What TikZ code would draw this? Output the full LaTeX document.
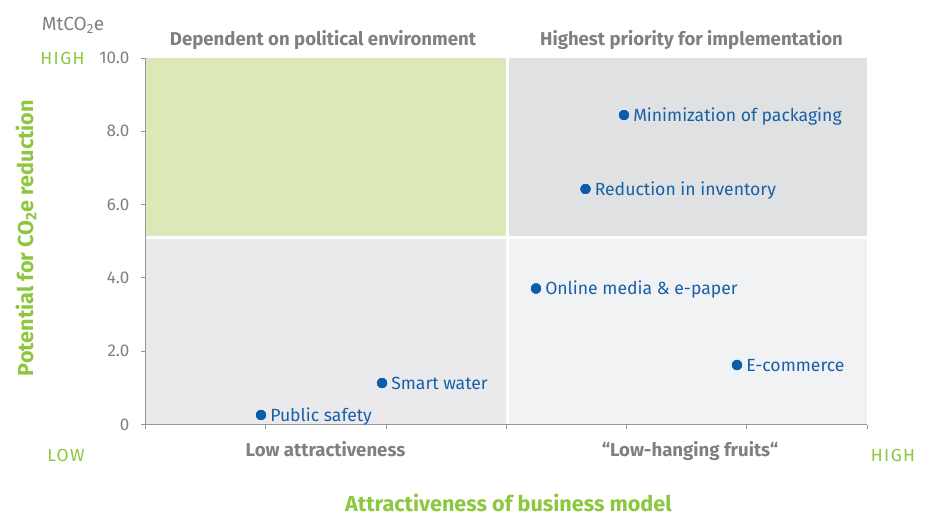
\documentclass[tikz,border=0pt]{standalone}
\usepackage{fontspec}
\setmainfont{Fira Sans}
\definecolor{qgreen}{RGB}{221,232,185}
\definecolor{qgrayA}{RGB}{224,225,227}
\definecolor{qgrayB}{RGB}{234,234,236}
\definecolor{qgrayC}{RGB}{241,242,244}
\definecolor{axisgray}{RGB}{150,150,150}
\definecolor{txtgray}{RGB}{128,128,128}
\definecolor{dotblue}{RGB}{11,93,170}
\definecolor{lblblue}{RGB}{25,95,168}
\definecolor{accgreen}{RGB}{141,198,63}
\tikzset{
  quad/.style={draw=none, inner sep=0pt, outer sep=0pt, anchor=north west},
  dot/.style={circle, fill=dotblue, draw=white, line width=0.6pt, minimum size=11.5pt, inner sep=0pt},
  ptlabel/.style={anchor=base west, inner sep=0pt, text=lblblue, font=\fontsize{17.6}{20}\selectfont},
  ticklbl/.style={anchor=east, inner sep=0pt, text=txtgray, font=\fontsize{17}{20}\selectfont},
  header/.style={anchor=base, inner sep=0pt, text=txtgray, font=\fontsize{18.6}{22}\selectfont\bfseries},
  endlbl/.style={anchor=base, inner sep=0pt, text=accgreen, font=\fontsize{17.5}{20}\selectfont\addfontfeature{LetterSpace=8}},
  axtitle/.style={inner sep=0pt, text=accgreen, font=\fontsize{21.6}{25}\selectfont\bfseries},
  axisline/.style={draw=axisgray, line width=1.2pt},
  tickline/.style={draw=axisgray, line width=1pt}
}
\begin{document}
\begin{tikzpicture}[x=1pt,y=-1pt]
\useasboundingbox (0,0) rectangle (930,515);
% quadrants
\node[quad, fill=qgreen, minimum width=360pt, minimum height=177.7pt] (q1) at (146,58) {};
\node[quad, fill=qgrayA, minimum width=358pt, minimum height=177.7pt] (q2) at (509,58) {};
\node[quad, fill=qgrayB, minimum width=360pt, minimum height=185.5pt] (q3) at (146,239) {};
\node[quad, fill=qgrayC, minimum width=358pt, minimum height=185.5pt] (q4) at (509,239) {};
% axes
\coordinate (o) at (145.5,424.5);
\coordinate (ytop) at (145.5,58);
\coordinate (xend) at (867,424.5);
\draw[axisline] (ytop) -- (o) -- (xend);
\foreach \i in {0,...,6} {
  \draw[tickline] ({145.5+120.25*\i},424.5) -- ++(0,4.5);
}
\foreach \v/\t in {0/0,1/2.0,2/4.0,3/6.0,4/8.0,5/10.0} {
  \draw[tickline] (145.5,{424.5-73.3*\v}) -- ++(-5,0);
  \node[ticklbl] (tk\v) at (129.5,{424.5-73.3*\v}) {\t};
}
% headers
\node[header] (h1) at (323,45) {Dependent on political environment};
\node[header] (h2) at (691.5,45) {Highest priority for implementation};
\node[header] (h3) at (325.5,456.5) {Low attractiveness};
\node[header] (h4) at (690,456.5) {“Low-hanging fruits“};
% end labels
\node[endlbl] (hiy) at (62.5,64) {HIGH};
\node[endlbl] (lox) at (66,461.5) {LOW};
\node[endlbl] (hix) at (893,461.5) {HIGH};
\node[anchor=base, inner sep=0pt, text=txtgray, font=\fontsize{19}{22}\selectfont] (unit) at (73,30) {MtCO\textsubscript{2}e};
% axis titles
\node[axtitle, anchor=base] (xt) at (508.5,511) {Attractiveness of business model};
\node[axtitle, rotate=90] (yt) at (26,238) {Potential for CO\textsubscript{2}e reduction};
% points
\node[dot] (ps) at (261,415) {};
\node[dot] (sw) at (382,383) {};
\node[dot] (mp) at (624,115) {};
\node[dot] (ri) at (585.5,189) {};
\node[dot] (om) at (536,288.5) {};
\node[dot] (ec) at (737,365) {};
\node[ptlabel] (psl) at ([xshift=3pt,yshift=-6pt]ps.east) {Public safety};
\node[ptlabel] (swl) at ([xshift=3pt,yshift=-6pt]sw.east) {Smart water};
\node[ptlabel] (mpl) at ([xshift=3pt,yshift=-6pt]mp.east) {Minimization of packaging};
\node[ptlabel] (ril) at ([xshift=3pt,yshift=-6pt]ri.east) {Reduction in inventory};
\node[ptlabel] (oml) at ([xshift=3pt,yshift=-6pt]om.east) {Online media \& e-paper};
\node[ptlabel] (ecl) at ([xshift=3pt,yshift=-6pt]ec.east) {E-commerce};
\end{tikzpicture}
\end{document}
